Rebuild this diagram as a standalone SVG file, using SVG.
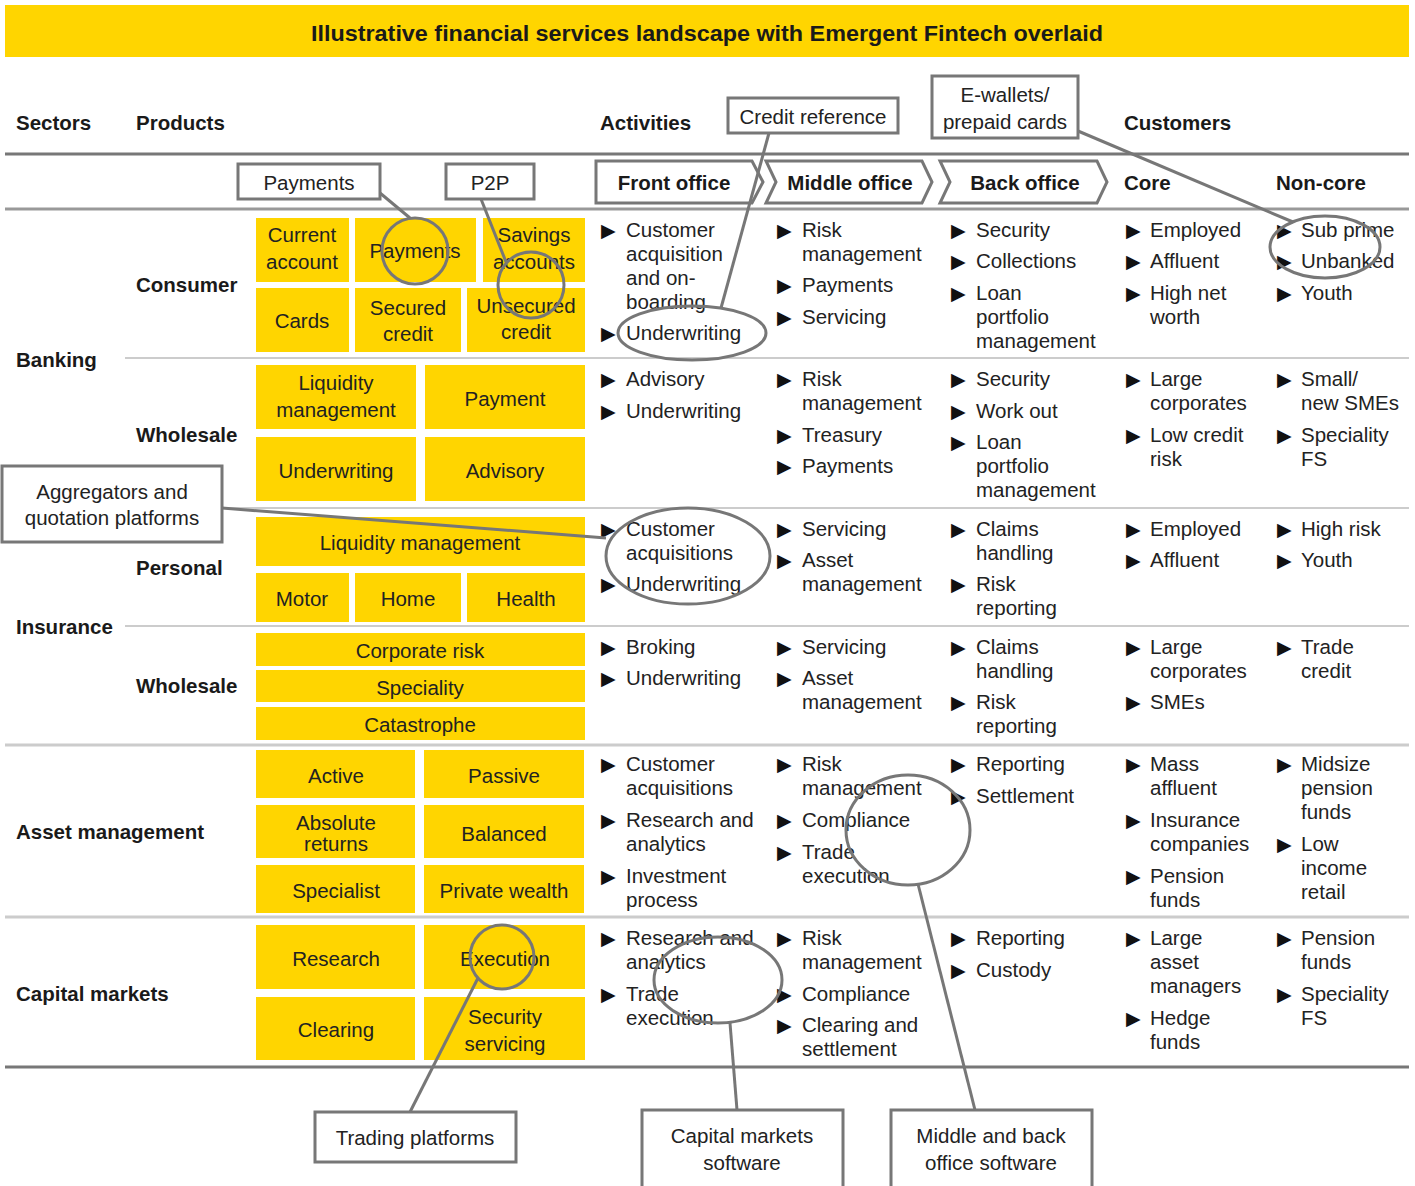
<svg xmlns="http://www.w3.org/2000/svg" width="1415" height="1186" viewBox="0 0 1415 1186">
<style>
text{font-family:"Liberation Sans",Arial,sans-serif;fill:#222;font-size:20.5px}
.h{font-weight:bold;font-size:20.5px;fill:#1a1a1a}
.c{text-anchor:middle}
.bu{font-family:"DejaVu Sans",sans-serif;font-size:19px;fill:#111}
.p{fill:#FFD500}
.co{fill:#fff;stroke:#777;stroke-width:3}
.ch{fill:#fff;stroke:#777;stroke-width:3}
.hl{fill:none;stroke:#777;stroke-width:3}
.cn{stroke:#777;stroke-width:3;fill:none}
.g{stroke:#ccc;stroke-width:2}
</style>
<rect x="0" y="0" width="1415" height="1186" fill="#fff"/>
<g id="title">
<rect x="5" y="5" width="1404" height="52" fill="#FFD500"/>
<text x="707" y="41" class="h c" style="font-size:22px" textLength="792" lengthAdjust="spacingAndGlyphs">Illustrative financial services landscape with Emergent Fintech overlaid</text>
</g>
<g id="headers">
<text x="16" y="130" class="h">Sectors</text>
<text x="136" y="130" class="h">Products</text>
<text x="600" y="130" class="h">Activities</text>
<text x="1124" y="130" class="h">Customers</text>
<text x="1124" y="190" class="h">Core</text>
<text x="1276" y="190" class="h">Non-core</text>
</g>
<g id="grid">
<line x1="5" y1="154" x2="1409" y2="154" stroke="#777" stroke-width="3"/>
<line x1="5" y1="209" x2="1409" y2="209" stroke="#999" stroke-width="3"/>
<line x1="125" y1="358" x2="1409" y2="358" class="g"/>
<line x1="125" y1="508" x2="1409" y2="508" class="g"/>
<line x1="125" y1="626" x2="1409" y2="626" class="g"/>
<line x1="5" y1="745" x2="1409" y2="745" stroke="#ccc" stroke-width="3"/>
<line x1="5" y1="917" x2="1409" y2="917" stroke="#ccc" stroke-width="3"/>
<line x1="5" y1="1067" x2="1409" y2="1067" stroke="#777" stroke-width="3"/>
</g>
<g id="chevrons">
<g id="front-office"><polygon class="ch" points="596,161 752,161 763,182 752,203 596,203"/><text x="674" y="190" class="h c">Front office</text></g>
<g id="middle-office"><polygon class="ch" points="766,161 922,161 932,182 922,203 766,203 776,182"/><text x="850" y="190" class="h c">Middle office</text></g>
<g id="back-office"><polygon class="ch" points="940,161 1097,161 1107,182 1097,203 940,203 950,182"/><text x="1025" y="190" class="h c">Back office</text></g>
</g>
<g id="sectors">
<text x="16" y="367" class="h">Banking</text>
<text x="16" y="634" class="h">Insurance</text>
<text x="16" y="839" class="h">Asset management</text>
<text x="16" y="1001" class="h">Capital markets</text>
<text x="136" y="292" class="h">Consumer</text>
<text x="136" y="442" class="h">Wholesale</text>
<text x="136" y="575" class="h">Personal</text>
<text x="136" y="693" class="h">Wholesale</text>
</g>
<g id="products">
<g id="p-current"><rect class="p" x="256" y="218" width="93" height="64"/><text x="302" y="242" class="c">Current<tspan x="302" dy="27">account</tspan></text></g>
<g id="p-payments"><rect class="p" x="355" y="218" width="121" height="64"/><text x="415" y="258" class="c">Payments</text></g>
<g id="p-savings"><rect class="p" x="483" y="218" width="102" height="64"/><text x="534" y="242" class="c">Savings<tspan x="534" dy="27">accounts</tspan></text></g>
<g id="p-cards"><rect class="p" x="256" y="288" width="93" height="64"/><text x="302" y="328" class="c">Cards</text></g>
<g id="p-secured"><rect class="p" x="355" y="288" width="106" height="64"/><text x="408" y="315" class="c">Secured<tspan x="408" dy="26">credit</tspan></text></g>
<g id="p-unsecured"><rect class="p" x="467" y="288" width="118" height="64"/><text x="526" y="313" class="c">Unsecured<tspan x="526" dy="26">credit</tspan></text></g>
<g id="p-liq1"><rect class="p" x="256" y="365" width="160" height="64"/><text x="336" y="390" class="c">Liquidity<tspan x="336" dy="27">management</tspan></text></g>
<g id="p-payment"><rect class="p" x="425" y="365" width="160" height="64"/><text x="505" y="406" class="c">Payment</text></g>
<g id="p-uw"><rect class="p" x="256" y="437" width="160" height="64"/><text x="336" y="478" class="c">Underwriting</text></g>
<g id="p-adv"><rect class="p" x="425" y="437" width="160" height="64"/><text x="505" y="478" class="c">Advisory</text></g>
<g id="p-liq2"><rect class="p" x="256" y="517" width="329" height="49"/><text x="420" y="550" class="c">Liquidity management</text></g>
<g id="p-motor"><rect class="p" x="256" y="573" width="93" height="49"/><text x="302" y="606" class="c">Motor</text></g>
<g id="p-home"><rect class="p" x="355" y="573" width="106" height="49"/><text x="408" y="606" class="c">Home</text></g>
<g id="p-health"><rect class="p" x="467" y="573" width="118" height="49"/><text x="526" y="606" class="c">Health</text></g>
<g id="p-corp"><rect class="p" x="256" y="633" width="329" height="33"/><text x="420" y="658" class="c">Corporate risk</text></g>
<g id="p-spec"><rect class="p" x="256" y="670" width="329" height="32"/><text x="420" y="695" class="c">Speciality</text></g>
<g id="p-cat"><rect class="p" x="256" y="707" width="329" height="33"/><text x="420" y="732" class="c">Catastrophe</text></g>
<g id="p-active"><rect class="p" x="256" y="750" width="159" height="48"/><text x="336" y="783" class="c">Active</text></g>
<g id="p-passive"><rect class="p" x="424" y="750" width="160" height="48"/><text x="504" y="783" class="c">Passive</text></g>
<g id="p-abs"><rect class="p" x="256" y="805" width="159" height="53"/><text x="336" y="830" class="c">Absolute<tspan x="336" dy="21">returns</tspan></text></g>
<g id="p-bal"><rect class="p" x="424" y="805" width="160" height="53"/><text x="504" y="841" class="c">Balanced</text></g>
<g id="p-specialist"><rect class="p" x="256" y="865" width="159" height="48"/><text x="336" y="898" class="c">Specialist</text></g>
<g id="p-pw"><rect class="p" x="424" y="865" width="160" height="48"/><text x="504" y="898" class="c">Private wealth</text></g>
<g id="p-research"><rect class="p" x="256" y="925" width="159" height="64"/><text x="336" y="966" class="c">Research</text></g>
<g id="p-exec"><rect class="p" x="424" y="925" width="161" height="64"/><text x="505" y="966" class="c">Execution</text></g>
<g id="p-clearing"><rect class="p" x="256" y="997" width="159" height="63"/><text x="336" y="1037" class="c">Clearing</text></g>
<g id="p-secserv"><rect class="p" x="424" y="997" width="161" height="63"/><text x="505" y="1024" class="c">Security<tspan x="505" dy="27">servicing</tspan></text></g>
</g>
<g id="activities">
<!-- Consumer banking -->
<text x="601" y="237" class="bu">▶</text><text x="626" y="237">Customer<tspan x="626" dy="24">acquisition</tspan><tspan x="626" dy="24">and on-</tspan><tspan x="626" dy="24">boarding</tspan></text>
<text x="601" y="340" class="bu">▶</text><text x="626" y="340">Underwriting</text>
<text x="777" y="237" class="bu">▶</text><text x="802" y="237">Risk<tspan x="802" dy="24">management</tspan></text>
<text x="777" y="292" class="bu">▶</text><text x="802" y="292">Payments</text>
<text x="777" y="324" class="bu">▶</text><text x="802" y="324">Servicing</text>
<text x="951" y="237" class="bu">▶</text><text x="976" y="237">Security</text>
<text x="951" y="268" class="bu">▶</text><text x="976" y="268">Collections</text>
<text x="951" y="300" class="bu">▶</text><text x="976" y="300">Loan<tspan x="976" dy="24">portfolio</tspan><tspan x="976" dy="24">management</tspan></text>
<text x="1126" y="237" class="bu">▶</text><text x="1150" y="237">Employed</text>
<text x="1126" y="268" class="bu">▶</text><text x="1150" y="268">Affluent</text>
<text x="1126" y="300" class="bu">▶</text><text x="1150" y="300">High net<tspan x="1150" dy="24">worth</tspan></text>
<text x="1277" y="237" class="bu">▶</text><text x="1301" y="237">Sub prime</text>
<text x="1277" y="268" class="bu">▶</text><text x="1301" y="268">Unbanked</text>
<text x="1277" y="300" class="bu">▶</text><text x="1301" y="300">Youth</text>
<!-- Wholesale banking -->
<text x="601" y="386" class="bu">▶</text><text x="626" y="386">Advisory</text>
<text x="601" y="418" class="bu">▶</text><text x="626" y="418">Underwriting</text>
<text x="777" y="386" class="bu">▶</text><text x="802" y="386">Risk<tspan x="802" dy="24">management</tspan></text>
<text x="777" y="442" class="bu">▶</text><text x="802" y="442">Treasury</text>
<text x="777" y="473" class="bu">▶</text><text x="802" y="473">Payments</text>
<text x="951" y="386" class="bu">▶</text><text x="976" y="386">Security</text>
<text x="951" y="418" class="bu">▶</text><text x="976" y="418">Work out</text>
<text x="951" y="449" class="bu">▶</text><text x="976" y="449">Loan<tspan x="976" dy="24">portfolio</tspan><tspan x="976" dy="24">management</tspan></text>
<text x="1126" y="386" class="bu">▶</text><text x="1150" y="386">Large<tspan x="1150" dy="24">corporates</tspan></text>
<text x="1126" y="442" class="bu">▶</text><text x="1150" y="442">Low credit<tspan x="1150" dy="24">risk</tspan></text>
<text x="1277" y="386" class="bu">▶</text><text x="1301" y="386">Small/<tspan x="1301" dy="24">new SMEs</tspan></text>
<text x="1277" y="442" class="bu">▶</text><text x="1301" y="442">Speciality<tspan x="1301" dy="24">FS</tspan></text>
<!-- Personal insurance -->
<text x="601" y="536" class="bu">▶</text><text x="626" y="536">Customer<tspan x="626" dy="24">acquisitions</tspan></text>
<text x="601" y="591" class="bu">▶</text><text x="626" y="591">Underwriting</text>
<text x="777" y="536" class="bu">▶</text><text x="802" y="536">Servicing</text>
<text x="777" y="567" class="bu">▶</text><text x="802" y="567">Asset<tspan x="802" dy="24">management</tspan></text>
<text x="951" y="536" class="bu">▶</text><text x="976" y="536">Claims<tspan x="976" dy="24">handling</tspan></text>
<text x="951" y="591" class="bu">▶</text><text x="976" y="591">Risk<tspan x="976" dy="24">reporting</tspan></text>
<text x="1126" y="536" class="bu">▶</text><text x="1150" y="536">Employed</text>
<text x="1126" y="567" class="bu">▶</text><text x="1150" y="567">Affluent</text>
<text x="1277" y="536" class="bu">▶</text><text x="1301" y="536">High risk</text>
<text x="1277" y="567" class="bu">▶</text><text x="1301" y="567">Youth</text>
<!-- Wholesale insurance -->
<text x="601" y="654" class="bu">▶</text><text x="626" y="654">Broking</text>
<text x="601" y="685" class="bu">▶</text><text x="626" y="685">Underwriting</text>
<text x="777" y="654" class="bu">▶</text><text x="802" y="654">Servicing</text>
<text x="777" y="685" class="bu">▶</text><text x="802" y="685">Asset<tspan x="802" dy="24">management</tspan></text>
<text x="951" y="654" class="bu">▶</text><text x="976" y="654">Claims<tspan x="976" dy="24">handling</tspan></text>
<text x="951" y="709" class="bu">▶</text><text x="976" y="709">Risk<tspan x="976" dy="24">reporting</tspan></text>
<text x="1126" y="654" class="bu">▶</text><text x="1150" y="654">Large<tspan x="1150" dy="24">corporates</tspan></text>
<text x="1126" y="709" class="bu">▶</text><text x="1150" y="709">SMEs</text>
<text x="1277" y="654" class="bu">▶</text><text x="1301" y="654">Trade<tspan x="1301" dy="24">credit</tspan></text>
<!-- Asset management -->
<text x="601" y="771" class="bu">▶</text><text x="626" y="771">Customer<tspan x="626" dy="24">acquisitions</tspan></text>
<text x="601" y="827" class="bu">▶</text><text x="626" y="827">Research and<tspan x="626" dy="24">analytics</tspan></text>
<text x="601" y="883" class="bu">▶</text><text x="626" y="883">Investment<tspan x="626" dy="24">process</tspan></text>
<text x="777" y="771" class="bu">▶</text><text x="802" y="771">Risk<tspan x="802" dy="24">management</tspan></text>
<text x="777" y="827" class="bu">▶</text><text x="802" y="827">Compliance</text>
<text x="777" y="859" class="bu">▶</text><text x="802" y="859">Trade<tspan x="802" dy="24">execution</tspan></text>
<text x="951" y="771" class="bu">▶</text><text x="976" y="771">Reporting</text>
<text x="951" y="803" class="bu">▶</text><text x="976" y="803">Settlement</text>
<text x="1126" y="771" class="bu">▶</text><text x="1150" y="771">Mass<tspan x="1150" dy="24">affluent</tspan></text>
<text x="1126" y="827" class="bu">▶</text><text x="1150" y="827">Insurance<tspan x="1150" dy="24">companies</tspan></text>
<text x="1126" y="883" class="bu">▶</text><text x="1150" y="883">Pension<tspan x="1150" dy="24">funds</tspan></text>
<text x="1277" y="771" class="bu">▶</text><text x="1301" y="771">Midsize<tspan x="1301" dy="24">pension</tspan><tspan x="1301" dy="24">funds</tspan></text>
<text x="1277" y="851" class="bu">▶</text><text x="1301" y="851">Low<tspan x="1301" dy="24">income</tspan><tspan x="1301" dy="24">retail</tspan></text>
<!-- Capital markets -->
<text x="601" y="945" class="bu">▶</text><text x="626" y="945">Research and<tspan x="626" dy="24">analytics</tspan></text>
<text x="601" y="1001" class="bu">▶</text><text x="626" y="1001">Trade<tspan x="626" dy="24">execution</tspan></text>
<text x="777" y="945" class="bu">▶</text><text x="802" y="945">Risk<tspan x="802" dy="24">management</tspan></text>
<text x="777" y="1001" class="bu">▶</text><text x="802" y="1001">Compliance</text>
<text x="777" y="1032" class="bu">▶</text><text x="802" y="1032">Clearing and<tspan x="802" dy="24">settlement</tspan></text>
<text x="951" y="945" class="bu">▶</text><text x="976" y="945">Reporting</text>
<text x="951" y="977" class="bu">▶</text><text x="976" y="977">Custody</text>
<text x="1126" y="945" class="bu">▶</text><text x="1150" y="945">Large<tspan x="1150" dy="24">asset</tspan><tspan x="1150" dy="24">managers</tspan></text>
<text x="1126" y="1025" class="bu">▶</text><text x="1150" y="1025">Hedge<tspan x="1150" dy="24">funds</tspan></text>
<text x="1277" y="945" class="bu">▶</text><text x="1301" y="945">Pension<tspan x="1301" dy="24">funds</tspan></text>
<text x="1277" y="1001" class="bu">▶</text><text x="1301" y="1001">Speciality<tspan x="1301" dy="24">FS</tspan></text>
</g>
<g id="connectors">
<line class="cn" x1="380" y1="193" x2="410" y2="218"/>
<line class="cn" x1="481" y1="199" x2="506" y2="262"/>
<line class="cn" x1="769" y1="133" x2="721" y2="308"/>
<line class="cn" x1="1078" y1="131" x2="1293" y2="222"/>
<line class="cn" x1="222" y1="508" x2="606" y2="538"/>
<line class="cn" x1="410" y1="1112" x2="478" y2="978"/>
<line class="cn" x1="737" y1="1110" x2="730" y2="1023"/>
<line class="cn" x1="975" y1="1110" x2="918" y2="884"/>
<circle class="hl" cx="415" cy="251" r="33"/>
<circle class="hl" cx="531" cy="285" r="33"/>
<ellipse class="hl" cx="692" cy="333" rx="74" ry="27"/>
<ellipse class="hl" cx="1325" cy="247" rx="55" ry="31"/>
<ellipse class="hl" cx="688" cy="556" rx="82" ry="48"/>
<ellipse class="hl" cx="908" cy="830" rx="62" ry="55"/>
<ellipse class="hl" cx="718" cy="980" rx="64" ry="43"/>
<circle class="hl" cx="502" cy="957" r="32"/>
</g>
<g id="callout-payments"><rect class="co" x="238" y="164" width="142" height="35"/><text x="309" y="190" class="c">Payments</text></g>
<g id="callout-p2p"><rect class="co" x="446" y="164" width="88" height="35"/><text x="490" y="190" class="c">P2P</text></g>
<g id="callout-credit"><rect class="co" x="728" y="98" width="170" height="35"/><text x="813" y="124" class="c">Credit reference</text></g>
<g id="callout-ewallets"><rect class="co" x="932" y="76" width="146" height="62"/><text x="1005" y="102" class="c">E-wallets/<tspan x="1005" dy="27">prepaid cards</tspan></text></g>
<g id="callout-aggregators"><rect class="co" x="2" y="466" width="220" height="76"/><text x="112" y="499" class="c">Aggregators and<tspan x="112" dy="26">quotation platforms</tspan></text></g>
<g id="callout-trading"><rect class="co" x="315" y="1112" width="201" height="50"/><text x="415" y="1145" class="c">Trading platforms</text></g>
<g id="callout-cms"><rect class="co" x="642" y="1110" width="201" height="82"/><text x="742" y="1143" class="c">Capital markets<tspan x="742" dy="27">software</tspan></text></g>
<g id="callout-mbo"><rect class="co" x="891" y="1110" width="201" height="82"/><text x="991" y="1143" class="c">Middle and back<tspan x="991" dy="27">office software</tspan></text></g>
</svg>
